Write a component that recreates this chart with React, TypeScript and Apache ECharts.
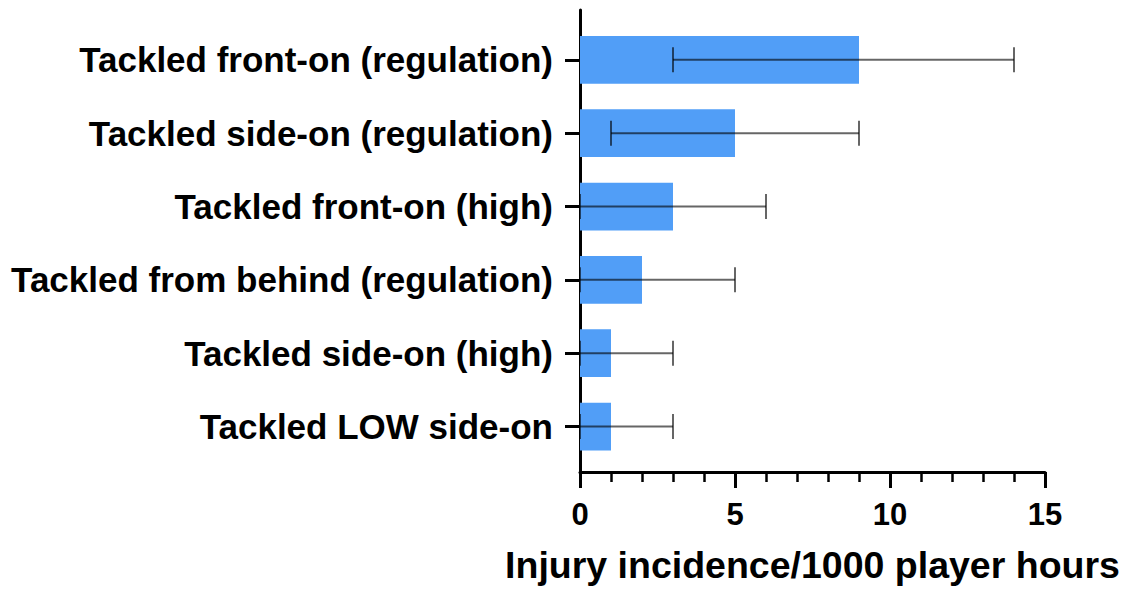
import React, { useEffect, useRef } from "react";
import * as echarts from "echarts";

const categories = [
  "Tackled front-on (regulation)",
  "Tackled side-on (regulation)",
  "Tackled front-on (high)",
  "Tackled from behind (regulation)",
  "Tackled side-on (high)",
  "Tackled LOW side-on",
];
const values = [9, 5, 3, 2, 1, 1];
const lowerCI = [3, 1, 0, 0, 0, 0];
const upperCI = [14, 9, 6, 5, 3, 3];
const xTicks = [0, 5, 10, 15];

const FONT = "'Liberation Sans', Arial, Helvetica, sans-serif";

export default function App() {
  const ref = useRef<HTMLDivElement>(null);
  useEffect(() => {
    if (!ref.current) return;
    const chart = echarts.init(ref.current, null, { renderer: "svg" });
    const barData = values.map((v, i) => [v, i]);
    const errData = values.map((v, i) => [lowerCI[i], upperCI[i], i]);
    chart.setOption({
      animation: false,
      backgroundColor: "#ffffff",
      grid: { left: 580, right: 85, top: 10, bottom: 115, containLabel: false },
      xAxis: {
        type: "value",
        min: xTicks[0],
        max: xTicks[xTicks.length - 1],
        interval: 5,
        splitLine: { show: false },
        axisLine: { show: true, onZero: false, lineStyle: { color: "#000", width: 3 } },
        axisTick: { show: true, length: 16, lineStyle: { color: "#000", width: 3 } },
        minorTick: { show: true, splitNumber: 5, length: 10, lineStyle: { color: "#000", width: 2.5 } },
        axisLabel: { fontSize: 31, fontWeight: "bold", color: "#000", fontFamily: FONT, margin: 27 },
        name: "Injury incidence/1000 player hours",
        nameLocation: "middle",
        nameGap: 74,
        nameTextStyle: { fontSize: 37.5, fontWeight: "bold", color: "#000", fontFamily: FONT },
      },
      yAxis: {
        type: "value",
        inverse: true,
        min: -0.68,
        max: 5.62,
        splitLine: { show: false },
        axisLine: { show: true, onZero: false, lineStyle: { color: "#000", width: 3 } },
        axisTick: {
          show: true,
          customValues: categories.map((_, i) => i),
          length: 15,
          lineStyle: { color: "#000", width: 3 },
        },
        axisLabel: {
          customValues: categories.map((_, i) => i),
          formatter: (v: number) => categories[Math.round(v)] ?? "",
          fontSize: 35,
          fontWeight: "bold",
          color: "#000",
          fontFamily: FONT,
          margin: 27,
        },
      },
      series: [
        {
          type: "custom",
          name: "bars",
          data: barData,
          encode: { x: 0, y: 1 },
          renderItem: (params: any, api: any) => {
            const v = api.value(0);
            const idx = api.value(1);
            const p0 = api.coord([0, idx]);
            const p1 = api.coord([v, idx]);
            const h = api.size([0, 1])[1] * 0.652;
            return {
              type: "rect",
              shape: { x: p0[0], y: p0[1] - h / 2, width: p1[0] - p0[0], height: h },
              style: { fill: "#519ef7" },
            };
          },
          z: 2,
        },
        {
          type: "custom",
          name: "errors",
          data: errData,
          encode: { x: [0, 1], y: 2 },
          renderItem: (params: any, api: any) => {
            const lo = api.value(0);
            const hi = api.value(1);
            const idx = api.value(2);
            const a = api.coord([lo, idx]);
            const b = api.coord([hi, idx]);
            const cap = 12.5;
            const st = { stroke: "rgba(0,0,0,0.6)", lineWidth: 2 };
            return {
              type: "group",
              children: [
                { type: "line", shape: { x1: a[0], y1: a[1], x2: b[0], y2: b[1] }, style: st },
                { type: "line", shape: { x1: a[0], y1: a[1] - cap, x2: a[0], y2: a[1] + cap }, style: st },
                { type: "line", shape: { x1: b[0], y1: b[1] - cap, x2: b[0], y2: b[1] + cap }, style: st },
              ],
            };
          },
          z: 3,
        },
      ],
    });
    return () => chart.dispose();
  }, []);
  return <div ref={ref} style={{ width: 1130, height: 589, position: "absolute", left: 0, top: 0 }} />;
}
